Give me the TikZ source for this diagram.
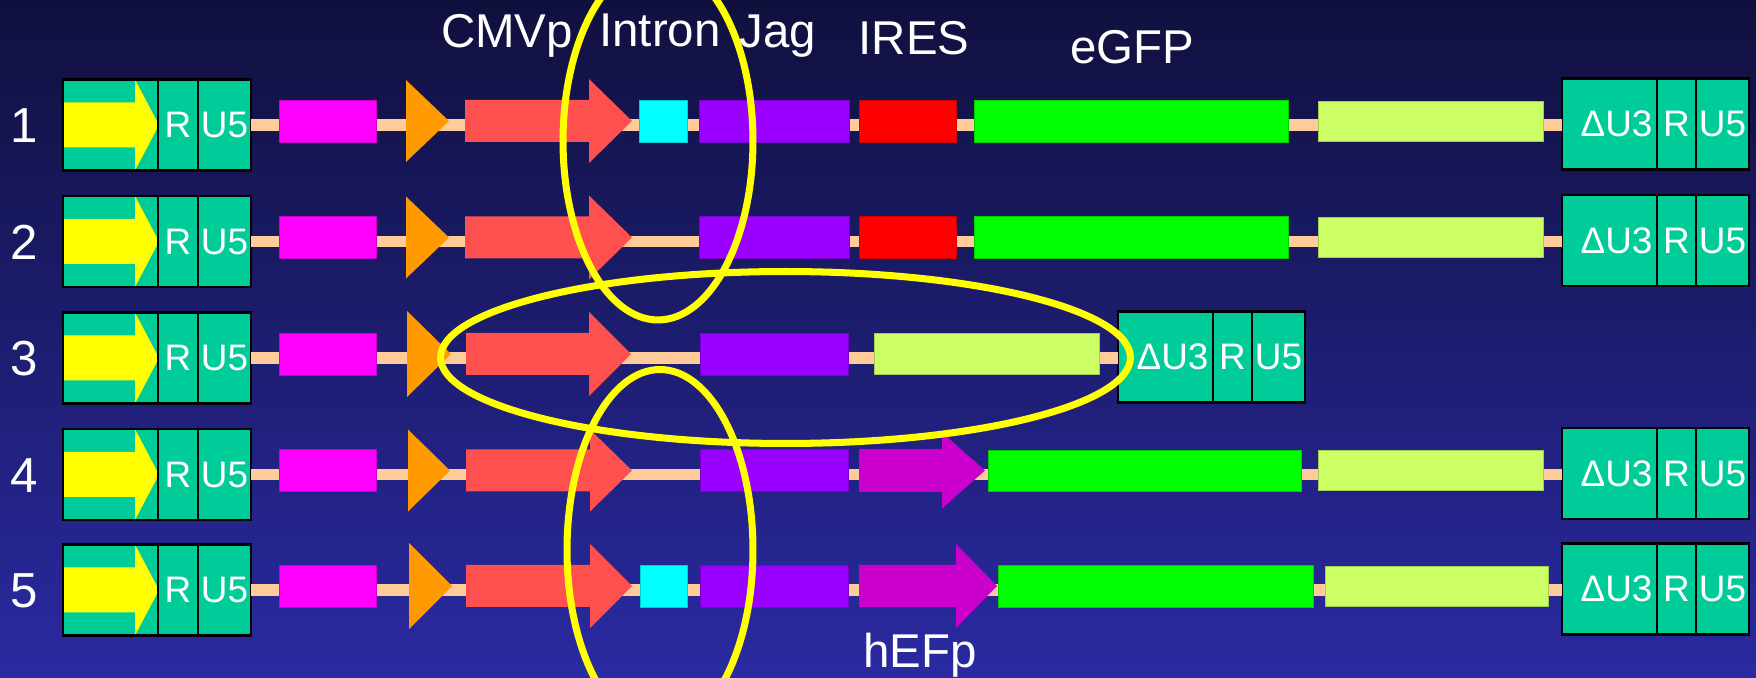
\documentclass[tikz,border=0pt]{standalone}
\usepackage{fontspec}
\setmainfont{Liberation Sans}
\definecolor{bgtop}{RGB}{16,16,62}
\definecolor{bgbot}{RGB}{42,42,162}
\definecolor{ltrc}{HTML}{00CC99}
\definecolor{magc}{HTML}{FF00FF}
\definecolor{orac}{HTML}{FF9900}
\definecolor{cmvc}{HTML}{FF5050}
\definecolor{cyac}{HTML}{00FFFF}
\definecolor{purc}{HTML}{9900FF}
\definecolor{iresc}{HTML}{FF0000}
\definecolor{gfpc}{HTML}{00FF00}
\definecolor{lgc}{HTML}{CCFF66}
\definecolor{hefc}{HTML}{CC00CC}
\definecolor{bbc}{HTML}{FFCC99}
\definecolor{yelc}{HTML}{FFFF00}
\tikzset{
 blk/.style={rectangle, inner sep=0pt, outer sep=0pt, line width=0.5pt},
 sect/.style={rectangle, draw=black, line width=1.3pt, fill=ltrc, inner sep=0pt, outer sep=0pt,
   minimum height=1.82cm, text=white, font=\fontsize{21}{25}\selectfont},
 bb/.style={draw=bbc, line width=6.8pt},
 lab/.style={text=white, font=\fontsize{27}{32}\selectfont, inner sep=0pt, anchor=base},
 num/.style={text=white, font=\fontsize{28}{34}\selectfont, inner sep=0pt, anchor=base},
 ring/.style={draw=yelc, line width=4pt},
}
% name, x1, x2, yc, h, colour
\newcommand\seg[6]{\node[blk, fill=#6, draw=#6!80!black, minimum width={(#3-#2)*0.02cm},
  minimum height={#5*0.02cm}] (#1) at ({(#2+#3)/2},{#4}) {};}
% x1, x2(head start), x3(tip), yc, body half, head half, colour
\newcommand\arrw[7]{\fill[#7] ({#1},{#4-#5}) -- ({#2},{#4-#5}) -- ({#2},{#4-#6}) -- ({#3},{#4})
  -- ({#2},{#4+#6}) -- ({#2},{#4+#5}) -- ({#1},{#4+#5}) -- cycle;}
% x1, x2, yc, half height
\newcommand\tri[4]{\fill[orac] ({#1},{#3-#4}) -- ({#2},{#3}) -- ({#1},{#3+#4}) -- cycle;}
% left LTR: prefix, yc
\newcommand\ltrL[2]{%
 \node[sect, minimum width=1.9cm] (#1a) at (110.5,{#2+4}) {};
 \node[sect, minimum width=0.8cm] (#1r) at (178,{#2+4}) {R};
 \node[sect, minimum width=1.06cm] (#1u) at (224.5,{#2+4}) {U5};
 \fill[yelc] (63,{#2+4-22.5}) -- (135,{#2+4-22.5}) -- (135,{#2+4-45.5}) -- (159,{#2+4})
   -- (135,{#2+4+45.5}) -- (135,{#2+4+22.5}) -- (63,{#2+4+22.5}) -- cycle;
 \draw[black, line width=1.3pt] (#1a.north west) rectangle (#1a.south east);
}
% right LTR: prefix, x0, yc
\newcommand\ltrR[3]{%
 \node[sect, minimum width=1.9cm] (#1d) at ({#2+47.5},{#3+3}) {\hspace{8pt}ΔU3};
 \node[sect, minimum width=0.78cm] (#1r) at ({#2+114.5},{#3+3}) {R};
 \node[sect, minimum width=1.06cm] (#1u) at ({#2+160.5},{#3+3}) {U5};
}
\begin{document}
\begin{tikzpicture}[x=0.02cm, y=-0.02cm]
\useasboundingbox (0,0) rectangle (1756,678);
\clip (0,0) rectangle (1756,678);
\shade[top color=bgtop, bottom color=bgbot] (0,0) rectangle (1756,678);

% ---------- row 1 ----------
\def\Y{121}
\node[num] (n1) at (24,{\Y+22}) {1};
\ltrL{La}{\Y}
\ltrR{Ra}{1562}{\Y}
\draw[bb] (Lau.east) -- (Lau.east -| Rad.west);
\seg{maga}{279}{376}{\Y}{42}{magc}
\tri{406}{449}{\Y}{41}
\arrw{465}{589}{632}{\Y}{21}{42}{cmvc}
\seg{cyaa}{639}{687}{\Y}{42}{cyac}
\seg{pura}{699}{849}{\Y}{42}{purc}
\seg{iresa}{859}{956}{\Y}{42}{iresc}
\seg{gfpa}{974}{1288}{\Y}{42}{gfpc}
\seg{lga}{1318}{1543}{\Y}{40}{lgc}

% ---------- row 2 ----------
\def\Y{237.5}
\node[num] (n2) at (24,{\Y+22}) {2};
\ltrL{Lb}{\Y}
\ltrR{Rb}{1562}{\Y}
\draw[bb] (Lbu.east) -- (Lbu.east -| Rbd.west);
\seg{magb}{279}{376}{\Y}{42}{magc}
\tri{406}{449}{\Y}{41}
\arrw{465}{589}{632}{\Y}{21}{42}{cmvc}
\seg{purb}{699}{849}{\Y}{42}{purc}
\seg{iresb}{859}{956}{\Y}{42}{iresc}
\seg{gfpb}{974}{1288}{\Y}{42}{gfpc}
\seg{lgb}{1318}{1543}{\Y}{40}{lgc}

% ---------- row 3 ----------
\def\Y{354}
\node[num] (n3) at (24,{\Y+22}) {3};
\ltrL{Lc}{\Y}
\ltrR{Rc}{1118}{\Y}
\draw[bb] (Lcu.east) -- (Lcu.east -| Rcd.west);
\seg{magc3}{279}{376}{\Y}{42}{magc}
\tri{407}{451}{\Y}{43}
\arrw{466}{589}{631}{\Y}{21}{42}{cmvc}
\seg{purc3}{700}{848}{\Y}{42}{purc}
\seg{lgc3}{874}{1099}{\Y}{41}{lgc}

% ---------- row 4 ----------
\def\Y{470.5}
\node[num] (n4) at (24,{\Y+22}) {4};
\ltrL{Ld}{\Y}
\ltrR{Rd}{1562}{\Y}
\draw[bb] (Ldu.east) -- (Ldu.east -| Rdd.west);
\seg{magd}{279}{376}{\Y}{42}{magc}
\tri{408}{450}{\Y}{41}
\arrw{466}{590}{632}{\Y}{21}{41}{cmvc}
\seg{purd}{700}{848}{\Y}{42}{purc}
\arrw{859}{942}{985}{\Y}{21.5}{38}{hefc}
\seg{gfpd}{988}{1301}{\Y}{41}{gfpc}
\seg{lgd}{1318}{1543}{\Y}{40}{lgc}

% ---------- row 5 ----------
\def\Y{586}
\node[num] (n5) at (24,{\Y+22}) {5};
\ltrL{Le}{\Y}
\ltrR{Re}{1562}{\Y}
\draw[bb] (Leu.east) -- (Leu.east -| Red.west);
\seg{mage}{279}{376}{\Y}{42}{magc}
\tri{409}{452}{\Y}{43}
\arrw{466}{590}{632}{\Y}{21}{42}{cmvc}
\seg{cyae}{640}{687}{\Y}{42}{cyac}
\seg{pure}{700}{848}{\Y}{42}{purc}
\arrw{859}{956}{997}{\Y}{21}{42}{hefc}
\seg{gfpe}{998}{1313}{\Y}{42}{gfpc}
\seg{lge}{1325}{1548}{\Y}{40}{lgc}

% ---------- labels ----------
\node[lab] (tcmv) at (507,48) {CMVp};
\node[lab] (tint) at (660,47) {Intron};
\node[lab] (tjag) at (778,48) {Jag};
\node[lab] (tires) at (914,55) {IRES};
\node[lab] (tgfp) at (1132,64) {eGFP};
\node[lab] (thef) at (920,668) {hEFp};

% ---------- rings ----------
\draw[ring] (658,141) ellipse [x radius=1.9cm, y radius=3.58cm];
\draw[ring] (785.5,357.5) ellipse [x radius=6.9cm, y radius=1.72cm];
\draw[ring] (660,550) ellipse [x radius=1.86cm, y radius=3.61cm];
\end{tikzpicture}
\end{document}
